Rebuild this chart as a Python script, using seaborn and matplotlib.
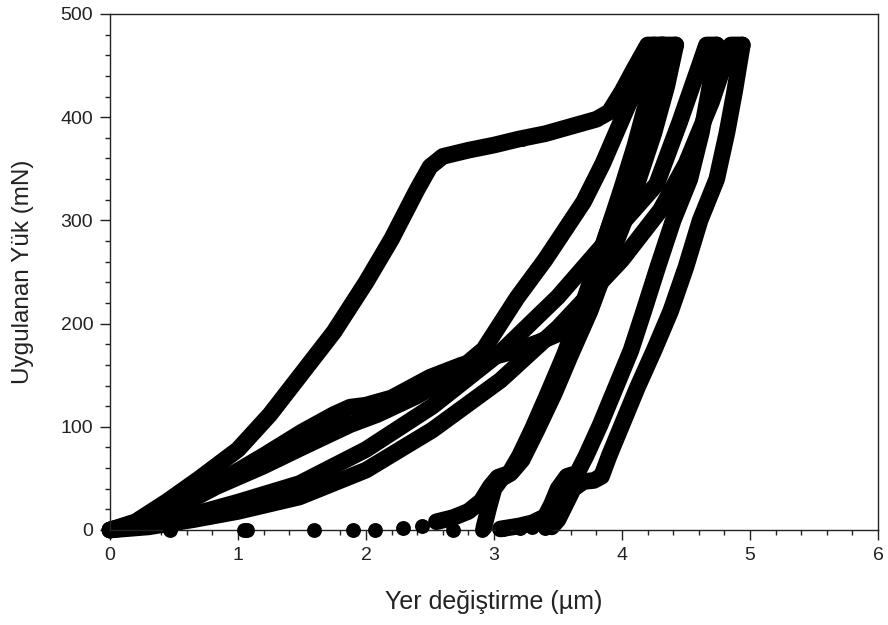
import numpy as np
import pandas as pd
import matplotlib
matplotlib.use("Agg")
import matplotlib.pyplot as plt
from matplotlib.ticker import MultipleLocator
import seaborn as sns

# ---- data (displacement in um, load in mN) ----
# Test 1 : loading with pop-in plateau
t1_load_x = [0, 0.2, 0.45, 0.7, 1.0, 1.25, 1.5, 1.75, 2.0, 2.2, 2.4, 2.5, 2.6, 2.8, 3.0, 3.2, 3.4, 3.6, 3.8, 3.9, 4.0, 4.1, 4.2, 4.32]
t1_load_y = [0, 8, 28, 50, 78, 112, 152, 192, 240, 282, 330, 352, 362, 368, 373, 379, 384, 391, 398, 405, 425, 448, 470, 470]
t1_unl_x = [4.32, 4.25, 4.15, 4.05, 3.9, 3.8, 3.67, 3.55, 3.42, 3.3, 3.2, 3.12, 3.03, 2.97, 2.9, 2.8, 2.68, 2.55]
t1_unl_y = [470, 430, 385, 345, 294, 258, 210, 170, 132, 98, 72, 55, 51, 42, 28, 18, 12, 8]

# Test 2 : loading with bump near 120 mN
t2_load_x = [0, 0.3, 0.6, 0.83, 1.2, 1.5, 1.75, 1.875, 2.0, 2.2, 2.5, 2.75, 2.94, 3.15, 3.35, 3.5, 3.62, 3.7, 3.8, 3.9, 4.0, 4.1, 4.2, 4.3, 4.42]
t2_load_y = [0, 10, 28, 45, 72, 95, 112, 119, 121, 128, 148, 160, 166, 173, 182, 190, 203, 218, 255, 294, 332, 372, 418, 470, 470]
t2_unl_x = [4.42, 4.35, 4.25, 4.13, 4.02, 3.9, 3.75, 3.6, 3.47, 3.34, 3.22, 3.13, 3.06, 3.0, 2.96, 2.92]
t2_unl_y = [470, 430, 385, 340, 300, 262, 212, 170, 132, 98, 68, 55, 50, 40, 22, 2]

# Test 3
t3_load_x = [0, 0.3, 0.65, 1.0, 1.48, 2.0, 2.52, 3.05, 3.5, 3.9, 4.27, 4.45, 4.61, 4.66, 4.74]
t3_load_y = [0, 5, 15, 27, 45, 78, 120, 172, 226, 283, 335, 395, 452, 470, 470]
t3_unl_x = [4.74, 4.68, 4.62, 4.53, 4.4, 4.28, 4.17, 4.07, 3.95, 3.83, 3.72, 3.65, 3.57, 3.5, 3.45, 3.4, 3.3, 3.2, 3.1, 3.05]
t3_unl_y = [470, 425, 385, 340, 300, 255, 212, 174, 138, 102, 72, 55, 52, 40, 25, 13, 7, 4, 2, 1]

# Test 4
t4_load_x = [0, 0.3, 0.65, 1.0, 1.48, 2.0, 2.52, 3.05, 3.5, 4.0, 4.3, 4.5, 4.7, 4.85, 4.94]
t4_load_y = [0, 3, 10, 18, 32, 58, 97, 145, 196, 262, 310, 355, 415, 470, 470]
t4_unl_x = [4.94, 4.88, 4.82, 4.74, 4.61, 4.5, 4.38, 4.25, 4.12, 4.0, 3.9, 3.84, 3.78, 3.7, 3.62, 3.56, 3.5, 3.45]
t4_unl_y = [470, 425, 385, 340, 300, 255, 212, 174, 138, 102, 72, 52, 48, 47, 40, 25, 10, 3]

# Test 5 : loading only
t5_load_x = [0, 0.3, 0.6, 0.83, 1.2, 1.5, 1.875, 2.09, 2.4, 2.68, 2.92, 3.18, 3.4, 3.55, 3.7, 3.85, 4.0, 4.12, 4.25]
t5_load_y = [0, 10, 27, 42, 62, 80, 102, 112, 130, 150, 175, 225, 262, 290, 318, 355, 398, 432, 470]

# sparse points near zero load (tip withdrawal) and isolated points
tail_x = [0.47, 1.05, 1.07, 1.59, 1.9, 2.07, 2.29, 2.44, 2.68, 2.91, 3.07, 3.2, 3.3, 3.4]
tail_y = [0, 0, 0, 0, 0, 0, 2, 4, 0, 0, 1, 2, 3, 2]

# sparse points on the pop-in plateau
gap_x = [3.15, 3.22]
gap_y = [378, 379]

curves = {
    "t1_load": (t1_load_x, t1_load_y), "t1_unl": (t1_unl_x, t1_unl_y),
    "t2_load": (t2_load_x, t2_load_y), "t2_unl": (t2_unl_x, t2_unl_y),
    "t3_load": (t3_load_x, t3_load_y), "t3_unl": (t3_unl_x, t3_unl_y),
    "t4_load": (t4_load_x, t4_load_y), "t4_unl": (t4_unl_x, t4_unl_y),
    "t5_load": (t5_load_x, t5_load_y),
}
frames = []
for name, (xs, ys) in curves.items():
    frames.append(pd.DataFrame({"x": xs, "y": ys, "curve": name}))
df = pd.concat(frames, ignore_index=True)
dots = pd.DataFrame({"x": tail_x + gap_x, "y": tail_y + gap_y})

sns.set_style("white")
plt.rcParams["font.family"] = ["Liberation Sans", "DejaVu Sans"]

fig = plt.figure(figsize=(8.88, 6.25), dpi=100)
ax = fig.add_axes([110 / 888, 95 / 625, 768 / 888, 516 / 625])

sns.lineplot(data=df, x="x", y="y", units="curve", estimator=None, sort=False,
             color="black", linewidth=12, ax=ax, clip_on=False,
             solid_capstyle="round", solid_joinstyle="round")
sns.scatterplot(data=dots, x="x", y="y", color="black", s=115, linewidth=0,
                ax=ax, clip_on=False, zorder=3)

ax.set_xlim(0, 6)
ax.set_ylim(0, 500)
ax.xaxis.set_major_locator(MultipleLocator(1))
ax.xaxis.set_minor_locator(MultipleLocator(0.2))
ax.yaxis.set_major_locator(MultipleLocator(100))
ax.yaxis.set_minor_locator(MultipleLocator(20))
ax.tick_params(which="major", direction="out", length=7, width=1, color="#222222",
               labelsize=14, labelcolor="#222222", pad=5, bottom=True, left=True,
               top=False, right=False)
ax.tick_params(which="minor", direction="out", length=3.6, width=1, color="#222222",
               bottom=True, left=True, top=False, right=False)
for sp in ax.spines.values():
    sp.set_visible(True)
    sp.set_color("#222222")
    sp.set_linewidth(1)

ax.set_xlabel("Yer değiştirme (µm)", fontsize=18, color="#222222")
ax.set_ylabel("Uygulanan Yük (mN)", fontsize=17.5, color="#222222")
ax.xaxis.set_label_coords(0.5, -0.116)
ax.yaxis.set_label_coords(-0.099, 0.5)

fig.savefig("out.png", dpi=100, facecolor="white")
